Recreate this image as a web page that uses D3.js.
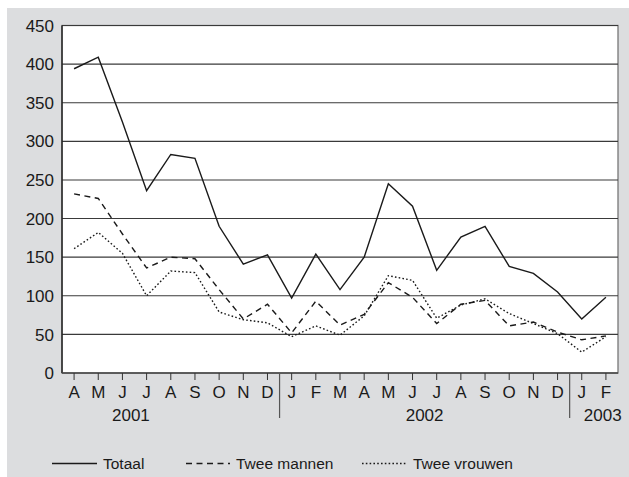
<!DOCTYPE html>
<html lang="nl">
  <head>
    <meta charset="UTF-8" />
    <title>Totaal, twee mannen, twee vrouwen</title>
    <script src="https://d3js.org/d3.v7.min.js"></script>
    <style>
      body {
        margin: 0;
        padding: 0;
        background: #fff;
      }
      svg {
        display: block;
        font-family: "Liberation Sans", Arial, sans-serif;
      }
    </style>
  </head>
  <body>
    <svg width="629" height="477"></svg>
    <script>
      const months = ["A", "M", "J", "J", "A", "S", "O", "N", "D",
        "J", "F", "M", "A", "M", "J", "J", "A", "S", "O", "N", "D",
        "J", "F"];
      // year label, centre position in month index units
      const years = [
        { label: "2001", at: 2.35 },
        { label: "2002", at: 14.5 },
        { label: "2003", at: 21.87 },
      ];
      // separators sit before these month indexes
      const yearBreaks = [9, 21];
      const yTicks = [0, 50, 100, 150, 200, 250, 300, 350, 400, 450];

      const totaal = [394, 409, 325, 236, 283, 278, 190, 141, 153,
        97, 154, 108, 150, 245, 216, 133, 176, 190, 138, 129, 105, 70, 98];
      const tweeMannen = [232, 226, 180, 136, 150, 148, 108, 70, 89,
        52, 93, 62, 76, 117, 98, 64, 89, 94, 61, 66, 53, 43, 48];
      const tweeVrouwen = [161, 182, 155, 100, 132, 130, 79, 69, 65,
        47, 61, 49, 74, 126, 120, 71, 88, 96, 77, 64, 51, 27, 47];

      const series = [
        { name: "Totaal", values: totaal, dash: null },
        { name: "Twee mannen", values: tweeMannen, dash: "6,4.5" },
        { name: "Twee vrouwen", values: tweeVrouwen, dash: "1.6,2.2" },
      ];

      const svg = d3.select("svg");
      const plot = { left: 62, right: 618, top: 25.5, bottom: 373 };

      // gray page panel
      svg.append("rect")
        .attr("x", 7).attr("y", 8)
        .attr("width", 622).attr("height", 469)
        .attr("fill", "#dcdddf");

      svg.append("rect")
        .attr("x", plot.left).attr("y", plot.top)
        .attr("width", plot.right - plot.left)
        .attr("height", plot.bottom - plot.top)
        .attr("fill", "#fff")
        .attr("stroke", "#777")
        .attr("stroke-width", 1.3);

      const x = d3.scaleBand()
        .domain(d3.range(months.length))
        .range([plot.left, plot.right]);
      const step = x.step();
      const cx = (i) => x(i) + step / 2;

      const y = d3.scaleLinear().domain([0, 450]).range([plot.bottom, plot.top]);

      // horizontal grid
      svg.append("g")
        .selectAll("line")
        .data(yTicks.filter((d) => d > 0))
        .join("line")
        .attr("x1", plot.left).attr("x2", plot.right)
        .attr("y1", (d) => y(d)).attr("y2", (d) => y(d))
        .attr("stroke", "#3a3a3a")
        .attr("stroke-width", 1.1);

      // y labels
      svg.append("g")
        .selectAll("text")
        .data(yTicks)
        .join("text")
        .attr("x", 54)
        .attr("y", (d) => y(d))
        .attr("dy", "0.36em")
        .attr("text-anchor", "end")
        .attr("font-size", 17)
        .attr("fill", "#1a1a1a")
        .text((d) => d);

      // axes lines
      svg.append("line")
        .attr("x1", plot.left).attr("x2", plot.left)
        .attr("y1", plot.top).attr("y2", plot.bottom)
        .attr("stroke", "#222").attr("stroke-width", 1.4);
      svg.append("line")
        .attr("x1", plot.left).attr("x2", plot.right)
        .attr("y1", plot.bottom).attr("y2", plot.bottom)
        .attr("stroke", "#444").attr("stroke-width", 1.4);

      // month ticks and labels
      svg.append("g")
        .selectAll("line")
        .data(months)
        .join("line")
        .attr("x1", (d, i) => cx(i)).attr("x2", (d, i) => cx(i))
        .attr("y1", plot.bottom).attr("y2", plot.bottom + 7)
        .attr("stroke", "#333").attr("stroke-width", 1);

      svg.append("g")
        .selectAll("text")
        .data(months)
        .join("text")
        .attr("x", (d, i) => cx(i))
        .attr("y", 398)
        .attr("text-anchor", "middle")
        .attr("font-size", 17)
        .attr("fill", "#1a1a1a")
        .text((d) => d);

      svg.append("g")
        .selectAll("line")
        .data(yearBreaks)
        .join("line")
        .attr("x1", (d) => x(d)).attr("x2", (d) => x(d))
        .attr("y1", plot.bottom).attr("y2", 418)
        .attr("stroke", "#555").attr("stroke-width", 1.2);

      svg.append("g")
        .selectAll("text")
        .data(years)
        .join("text")
        .attr("x", (d) => plot.left + step * (d.at + 0.5))
        .attr("y", 421)
        .attr("text-anchor", "middle")
        .attr("font-size", 17)
        .attr("fill", "#1a1a1a")
        .text((d) => d.label);

      // series
      const line = d3.line()
        .x((d, i) => cx(i))
        .y((d) => y(d));

      svg.append("g")
        .selectAll("path")
        .data(series)
        .join("path")
        .attr("d", (d) => line(d.values))
        .attr("fill", "none")
        .attr("stroke", "#1a1a1a")
        .attr("stroke-width", 1.4)
        .attr("stroke-dasharray", (d) => d.dash);

      // legend
      const legendItems = [
        { s: series[0], x1: 52, x2: 97, tx: 103 },
        { s: series[1], x1: 186, x2: 230, tx: 236 },
        { s: series[2], x1: 362, x2: 406, tx: 413 },
      ];
      const legend = svg.append("g");
      legend.selectAll("line")
        .data(legendItems)
        .join("line")
        .attr("x1", (d) => d.x1).attr("x2", (d) => d.x2)
        .attr("y1", 463.5).attr("y2", 463.5)
        .attr("stroke", "#1a1a1a")
        .attr("stroke-width", 1.3)
        .attr("stroke-dasharray", (d) => d.s.dash);
      legend.selectAll("text")
        .data(legendItems)
        .join("text")
        .attr("x", (d) => d.tx)
        .attr("y", 469)
        .attr("font-size", 15.5)
        .attr("fill", "#1a1a1a")
        .text((d) => d.s.name);
    </script>
  </body>
</html>
